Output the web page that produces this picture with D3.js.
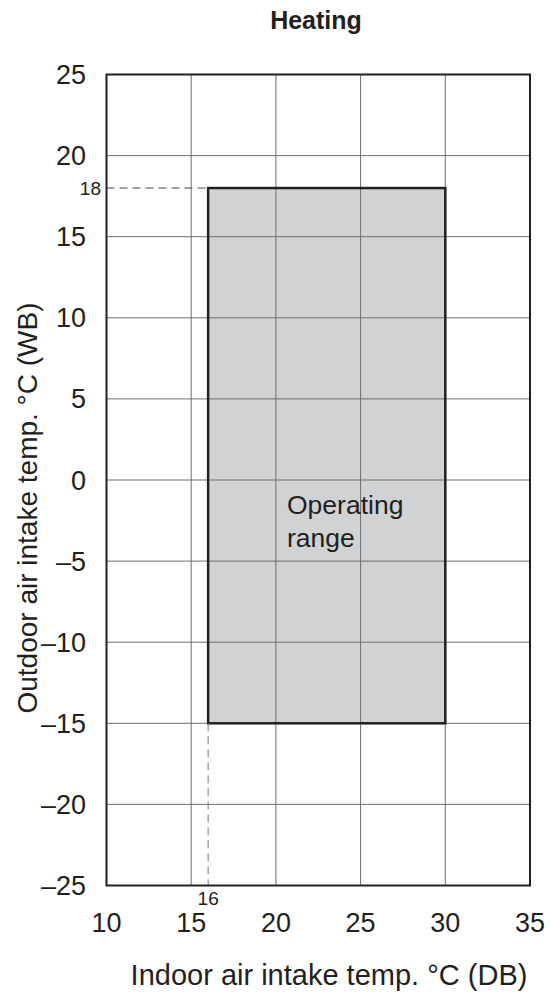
<!DOCTYPE html>
<html><head><meta charset="utf-8">
<script src="https://cdn.jsdelivr.net/npm/d3@7"></script>
<style>body{margin:0;background:#fff;} text{font-family:Arial,"Liberation Sans",sans-serif;fill:#231f20;}</style>
</head><body>
<svg id="c" width="550" height="1000"></svg>
<script>
const xTicks = [10, 15, 20, 25, 30, 35];
const yTicks = [25, 20, 15, 10, 5, 0, -5, -10, -15, -20, -25];
const rangeX = [16, 30];
const rangeY = [-15, 18];
const markX = [16];
const markY = [18];
const title = "Heating";
const xTitle = "Indoor air intake temp. °C (DB)";
const yTitle = "Outdoor air intake temp. °C (WB)";
const areaLabel = ["Operating", "range"];

const svg = d3.select("#c");
const L = 106.5, R = 530, T = 74.5, B = 885.5;
const x = d3.scaleLinear().domain([10, 35]).range([L, R]);
const y = d3.scaleLinear().domain([-25, 25]).range([B, T]);
const fmt = v => (v < 0 ? "\u2013" + Math.abs(v) : String(v));
const gridCol = "#6d6e70";

// grid
const g = svg.append("g");
g.selectAll(".gx").data(xTicks).enter().append("line")
  .attr("x1", d => x(d)).attr("x2", d => x(d)).attr("y1", T).attr("y2", B)
  .attr("stroke", gridCol).attr("stroke-width", 1);
g.selectAll(".gy").data(yTicks).enter().append("line")
  .attr("y1", d => y(d)).attr("y2", d => y(d)).attr("x1", L).attr("x2", R)
  .attr("stroke", gridCol).attr("stroke-width", 1);

// operating range
svg.append("rect")
  .attr("x", x(rangeX[0])).attr("y", y(rangeY[1]))
  .attr("width", x(rangeX[1]) - x(rangeX[0]))
  .attr("height", y(rangeY[0]) - y(rangeY[1]))
  .attr("fill", "#d1d2d4");
const gi = svg.append("g");
gi.selectAll("line.a").data(xTicks.filter(d => d > rangeX[0] && d < rangeX[1])).enter().append("line")
  .attr("x1", d => x(d)).attr("x2", d => x(d)).attr("y1", y(rangeY[1])).attr("y2", y(rangeY[0]))
  .attr("stroke", gridCol).attr("stroke-width", 1);
gi.selectAll("line.b").data(yTicks.filter(d => d > rangeY[0] && d < rangeY[1])).enter().append("line")
  .attr("y1", d => y(d)).attr("y2", d => y(d)).attr("x1", x(rangeX[0])).attr("x2", x(rangeX[1]))
  .attr("stroke", gridCol).attr("stroke-width", 1);
svg.append("rect")
  .attr("x", x(rangeX[0])).attr("y", y(rangeY[1]))
  .attr("width", x(rangeX[1]) - x(rangeX[0]))
  .attr("height", y(rangeY[0]) - y(rangeY[1]))
  .attr("fill", "none").attr("stroke", "#231f20").attr("stroke-width", 2.5);

// dashed guides
svg.append("line").attr("x1", L).attr("x2", x(markX[0])).attr("y1", y(markY[0])).attr("y2", y(markY[0]))
  .attr("stroke", "#444").attr("stroke-width", 1).attr("stroke-dasharray", "8,5");
svg.append("line").attr("x1", x(markX[0])).attr("x2", x(markX[0])).attr("y1", y(rangeY[0])).attr("y2", B)
  .attr("stroke", "#777").attr("stroke-width", 1).attr("stroke-dasharray", "8,5");

// frame
svg.append("rect").attr("x", L).attr("y", T).attr("width", R - L).attr("height", B - T)
  .attr("fill", "none").attr("stroke", "#231f20").attr("stroke-width", 2);

// tick labels
svg.selectAll(".yl").data(yTicks).enter().append("text")
  .attr("x", 86).attr("y", d => y(d) + 9.5).attr("text-anchor", "end")
  .attr("font-size", 27).text(fmt);
svg.selectAll(".xl").data(xTicks).enter().append("text")
  .attr("x", d => x(d)).attr("y", 932).attr("text-anchor", "middle")
  .attr("font-size", 27).text(fmt);
svg.append("text").attr("x", x(markX[0])).attr("y", 905).attr("text-anchor", "middle")
  .attr("font-size", 19).text(markX[0]);
svg.append("text").attr("x", 101).attr("y", y(markY[0]) + 6.5).attr("text-anchor", "end")
  .attr("font-size", 19).text(markY[0]);

// titles
svg.append("text").attr("x", 316).attr("y", 29).attr("text-anchor", "middle")
  .attr("font-size", 25).attr("font-weight", "bold").text(title);
svg.append("text").attr("x", 329).attr("y", 985).attr("text-anchor", "middle")
  .attr("font-size", 29).text(xTitle);
svg.append("text").attr("transform", `translate(37,508) rotate(-90)`)
  .attr("text-anchor", "middle").attr("font-size", 28).text(yTitle);

svg.selectAll(".al").data(areaLabel).enter().append("text")
  .attr("x", 287).attr("y", (d, i) => 514 + i * 33).attr("font-size", 26.5).text(d => d);
</script>
</body></html>
